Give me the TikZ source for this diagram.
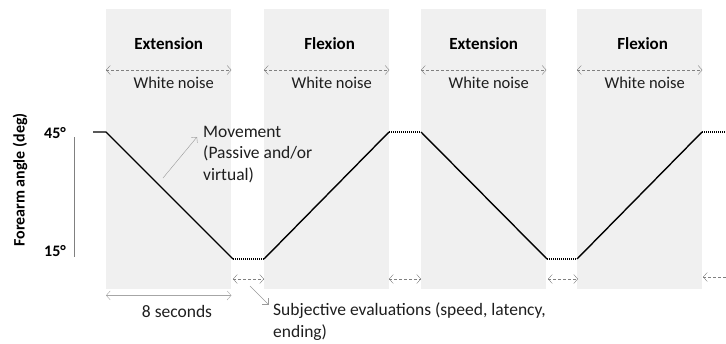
\documentclass[tikz,border=0pt]{standalone}
\usepackage{fontspec}
\setmainfont{Carlito}
\usetikzlibrary{arrows.meta}
\definecolor{panelgray}{HTML}{F0F0F0}
\definecolor{txt}{HTML}{1E1E1E}
\tikzset{
  panel/.style={fill=panelgray, draw=none, inner sep=0pt, minimum width=125pt, minimum height=280pt, anchor=north west},
  phase/.style={font=\fontsize{17}{20}\selectfont\bfseries, text=black},
  label/.style={font=\fontsize{17.5}{21.5}\selectfont, text=txt, inner sep=0pt},
  noiselabel/.style={label, font=\fontsize{16.5}{20}\selectfont},
  axislabel/.style={font=\fontsize{16}{19}\selectfont\bfseries, text=black, inner sep=0pt},
  noise/.style={draw=gray, dash pattern=on 3pt off 2pt, {Straight Barb[length=4pt,width=9pt]}-{Straight Barb[length=4pt,width=9pt]}},
  span/.style={draw=gray!70, {Straight Barb[length=4pt,width=9pt]}-{Straight Barb[length=4pt,width=9pt]}},
  pointer/.style={draw=gray!80, -{Straight Barb[length=4pt,width=8pt]}},
  move/.style={draw=black, line width=1.4pt},
  hold/.style={draw=black, line width=1.4pt, dash pattern=on 1pt off 1pt}
}

\begin{document}
\begin{tikzpicture}[x=1pt,y=-1pt]
   \useasboundingbox (0,0) rectangle (726,343);
   \clip (0,0) rectangle (726,343);

   \node[panel] (p1) at (106,9) {};
   \node[panel] (p2) at (264,9) {};
   \node[panel] (p3) at (421,9) {};
   \node[panel] (p4) at (577,9) {};

   \node[phase] (t1) at ([yshift=-35pt]p1.north) {Extension};
   \node[phase] (t2) at ([xshift=3pt,yshift=-35pt]p2.north) {Flexion};
   \node[phase] (t3) at ([yshift=-35pt]p3.north) {Extension};
   \node[phase] (t4) at ([xshift=3pt,yshift=-35pt]p4.north) {Flexion};

   \draw[noise] ([yshift=-61pt]p1.north west) -- ([yshift=-61pt]p1.north east);
   \draw[noise] ([yshift=-61pt]p2.north west) -- ([yshift=-61pt]p2.north east);
   \draw[noise] ([yshift=-61pt]p3.north west) -- ([yshift=-61pt]p3.north east);
   \draw[noise] ([yshift=-61pt]p4.north west) -- ([yshift=-61pt]p4.north east);

   \node[noiselabel] (w1) at ([xshift=5pt,yshift=-74pt]p1.north) {White noise};
   \node[noiselabel] (w2) at ([xshift=5pt,yshift=-74pt]p2.north) {White noise};
   \node[noiselabel] (w3) at ([xshift=5pt,yshift=-74pt]p3.north) {White noise};
   \node[noiselabel] (w4) at ([xshift=5pt,yshift=-74pt]p4.north) {White noise};

   \coordinate (a0) at (93,132);
   \coordinate (a1) at (106,132);
   \coordinate (a2) at (233,259);
   \coordinate (a3) at (264,259);
   \coordinate (a4) at (389,132);
   \coordinate (a5) at (421,132);
   \coordinate (a6) at (547,259);
   \coordinate (a7) at (577,259);
   \coordinate (a8) at (702,132);
   \coordinate (a9) at (730,132);

   \draw[move] (a0) -- (a1) -- (a2);
   \draw[hold] (a2) -- (a3);
   \draw[move] (a3) -- (a4);
   \draw[hold] (a4) -- (a5);
   \draw[move] (a5) -- (a6);
   \draw[hold] (a6) -- (a7);
   \draw[move] (a7) -- (a8);
   \draw[hold] (a8) -- (a9);

   \coordinate (g1) at (233,279);
   \coordinate (g2) at (264,279);
   \coordinate (g3) at (389,279);
   \coordinate (g4) at (421,279);
   \coordinate (g5) at (548,279);
   \coordinate (g6) at (578,279);
   \coordinate (g7) at (703,277);
   \coordinate (g8) at (735,277);
   \draw[noise] (g1) -- (g2);
   \draw[noise] (g3) -- (g4);
   \draw[noise] (g5) -- (g6);
   \draw[noise] (g7) -- (g8);

   \node[axislabel] (deg45) at (55,133) {45°};
   \node[axislabel] (deg15) at (55,251) {15°};
   \draw[gray, line width=0.6pt] (74,137) -- (74,257);
   \node[axislabel, rotate=90] (yl) at (20,180) {Forearm angle (deg)};

   \node[label, align=left, anchor=north west] (mv) at (203,126) {Movement\\(Passive and/or\\virtual)};
   \coordinate (mvtail) at (163,178);
   \coordinate (mvtip) at (197,137);
   \draw[pointer] (mvtail) -- (mvtip);

   \draw[span] ([yshift=-6pt]p1.south west) -- ([yshift=-6pt]p1.south east);
   \node[label] (sec) at (177,311) {8 seconds};

   \node[label, align=left, anchor=north west, font=\fontsize{17.5}{22}\selectfont] (se) at (273,303) {Subjective evaluations (speed, latency,\\ending)};
   \coordinate (setail) at (250,286);
   \coordinate (setip) at (268,304);
   \draw[pointer] (setail) -- (setip);
\end{tikzpicture}
\end{document}
